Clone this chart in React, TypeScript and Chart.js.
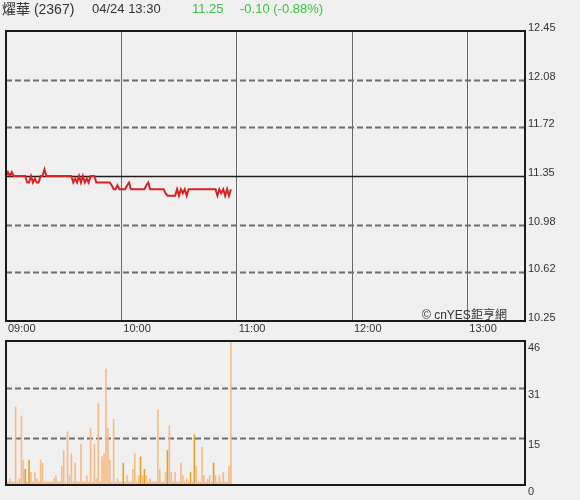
import React, { useEffect, useRef } from "react";
import { Chart, registerables } from "chart.js";

Chart.register(...registerables);

// ---------- data ----------
const stockName = "燿華 (2367)";
const stampText = "04/24 13:30";
const lastPrice = "11.25";
const changeText = "-0.10 (-0.88%)";
const copyrightA = "© cnYES";
const copyrightB = "鉅亨網";

const prevClose = 11.35;
const priceTicks = [10.25, 10.62, 10.98, 11.35, 11.72, 12.08, 12.45];
const volumeTicks = [0, 15, 31, 46];
const timeTicks = [0, 60, 120, 180, 240];
const timeLabels = ["09:00", "10:00", "11:00", "12:00", "13:00"];
const sessionMinutes = 270;

// price per minute from 09:00
const prices = [
  11.35, 11.38, 11.35, 11.38, 11.35, 11.35, 11.35, 11.35, 11.35, 11.35,
  11.35, 11.30, 11.30, 11.35, 11.30, 11.33, 11.30, 11.30, 11.35, 11.35,
  11.40, 11.35, 11.35, 11.35, 11.35, 11.35, 11.35, 11.35, 11.35, 11.35,
  11.35, 11.35, 11.35, 11.35, 11.35, 11.30, 11.33, 11.30, 11.35, 11.30,
  11.35, 11.30, 11.33, 11.30, 11.35, 11.35, 11.35, 11.30, 11.30, 11.30,
  11.30, 11.30, 11.30, 11.30, 11.30, 11.28, 11.25, 11.25, 11.28, 11.25,
  11.25, 11.25, 11.25, 11.28, 11.30, 11.25, 11.25, 11.25, 11.25, 11.25,
  11.25, 11.25, 11.25, 11.28, 11.30, 11.25, 11.25, 11.25, 11.25, 11.25,
  11.25, 11.25, 11.25, 11.22, 11.20, 11.20, 11.20, 11.20, 11.20, 11.25,
  11.20, 11.25, 11.22, 11.25, 11.20, 11.25, 11.25, 11.25, 11.25, 11.25,
  11.25, 11.25, 11.25, 11.25, 11.25, 11.25, 11.25, 11.25, 11.25, 11.25,
  11.20, 11.25, 11.22, 11.25, 11.20, 11.25, 11.20, 11.25,
];

// volume per minute
const volumes = [
  7, 1, 2, 1, 1, 25, 1, 2, 22, 8,
  5, 1, 8, 4, 1, 4, 2, 1, 8, 7,
  1, 1, 1, 1, 1, 2, 3, 1, 1, 6,
  11, 1, 17, 3, 10, 1, 7, 1, 1, 13,
  1, 1, 3, 1, 18, 1, 13, 2, 26, 1,
  9, 10, 37, 18, 8, 1, 21, 1, 2, 1,
  1, 7, 1, 3, 1, 1, 5, 10, 1, 3,
  9, 3, 5, 3, 1, 2, 1, 1, 1, 24,
  5, 1, 1, 4, 11, 19, 4, 1, 4, 1,
  1, 7, 3, 1, 2, 1, 4, 1, 16, 6,
  1, 1, 12, 3, 1, 2, 3, 1, 7, 3,
  1, 3, 1, 4, 1, 1, 6, 46,
];
// minutes whose volume bar is the darker tone
const darkMinutes = [10, 12, 61, 70, 72, 84, 96, 98, 108];

// ---------- helpers ----------
const FONT = '"Liberation Sans", Arial, "Noto Sans CJK TC", sans-serif';

const framePlugin = (lines: number[], solidValue: number | null) => ({
  id: "frame",
  beforeDatasetsDraw(chart: any) {
    const { ctx, chartArea: a, scales } = chart;
    const ys = scales.y;
    ctx.save();
    for (const v of lines) {
      const py = Math.round(ys.getPixelForValue(v)) + 0.5;
      if (py <= a.top + 2 || py >= a.bottom - 2) continue;
      ctx.beginPath();
      if (solidValue !== null && v === solidValue) {
        ctx.setLineDash([]);
        ctx.strokeStyle = "#1e1e1e";
        ctx.lineWidth = 1.5;
      } else {
        ctx.setLineDash([6, 3]);
        ctx.strokeStyle = "#6e6e6e";
        ctx.lineWidth = 2;
      }
      ctx.moveTo(a.left, py);
      ctx.lineTo(a.right, py);
      ctx.stroke();
    }
    ctx.restore();
  },
  afterDatasetsDraw(chart: any) {
    const { ctx, chartArea: a } = chart;
    ctx.save();
    ctx.setLineDash([]);
    ctx.strokeStyle = "#1a1a1a";
    ctx.lineWidth = 2;
    ctx.strokeRect(a.left, a.top, a.right - a.left, a.bottom - a.top);
    ctx.restore();
  },
});

export default function App() {
  const priceRef = useRef<HTMLCanvasElement | null>(null);
  const volRef = useRef<HTMLCanvasElement | null>(null);

  useEffect(() => {
    document.body.style.margin = "0";
    const tickFont = { family: FONT, size: 11 };

    const priceChart = new Chart(priceRef.current as HTMLCanvasElement, {
      type: "line",
      data: {
        datasets: [
          {
            data: prices.map((p, i) => ({ x: i, y: p })),
            borderColor: "#d42424",
            borderWidth: 2,
            pointRadius: 0,
            tension: 0,
            fill: false,
          },
        ],
      },
      options: {
        animation: false,
        responsive: false,
        events: [],
        layout: { padding: { left: 6, top: 31, right: 0, bottom: 0 } },
        plugins: { legend: { display: false }, tooltip: { enabled: false } },
        scales: {
          x: {
            type: "linear",
            min: 0,
            max: sessionMinutes,
            offset: false,
            afterBuildTicks: (s: any) => {
              s.ticks = timeTicks.map((v) => ({ value: v }));
            },
            afterFit: (s: any) => {
              s.height = 17;
            },
            grid: { color: "#6a6a6a", lineWidth: 1, drawTicks: false },
            border: { display: false },
            ticks: {
              align: "start",
              padding: 1,
              labelOffset: 2,
              maxRotation: 0,
              autoSkip: false,
              color: "#333",
              font: tickFont,
              callback: (_v: any, i: number) => timeLabels[i],
            },
          },
          y: {
            position: "right",
            min: priceTicks[0],
            max: priceTicks[priceTicks.length - 1],
            afterBuildTicks: (s: any) => {
              s.ticks = priceTicks.map((v) => ({ value: v }));
            },
            afterFit: (s: any) => {
              s.width = 55;
            },
            grid: { display: false, drawTicks: false },
            border: { display: false },
            ticks: {
              padding: 3,
              labelOffset: -3,
              color: "#333",
              font: tickFont,
              callback: (v: any) => Number(v).toFixed(2),
            },
          },
        },
      } as any,
      plugins: [framePlugin(priceTicks, prevClose)],
    });

    const volChart = new Chart(volRef.current as HTMLCanvasElement, {
      type: "bar",
      data: {
        datasets: [
          {
            data: volumes.map((v, i) => ({ x: i, y: v })),
            backgroundColor: volumes.map((_v, i) =>
              darkMinutes.includes(i) ? "#e3a224" : "#f8bb88"
            ),
            barThickness: 1,
            borderWidth: 0,
          },
        ],
      },
      options: {
        animation: false,
        responsive: false,
        events: [],
        layout: { padding: { left: 6, top: 11, right: 0, bottom: 15 } },
        plugins: { legend: { display: false }, tooltip: { enabled: false } },
        scales: {
          x: {
            type: "linear",
            min: 0,
            max: sessionMinutes,
            offset: false,
            display: false,
          },
          y: {
            position: "right",
            min: volumeTicks[0],
            max: volumeTicks[volumeTicks.length - 1],
            afterBuildTicks: (s: any) => {
              s.ticks = volumeTicks.map((v) => ({ value: v }));
            },
            afterFit: (s: any) => {
              s.width = 55;
            },
            grid: { display: false, drawTicks: false },
            border: { display: false },
            ticks: {
              padding: 3,
              labelOffset: 7,
              color: "#333",
              font: tickFont,
              callback: (v: any) => String(v),
            },
          },
        },
      } as any,
      plugins: [framePlugin(volumeTicks, null)],
    });

    return () => {
      priceChart.destroy();
      volChart.destroy();
    };
  }, []);

  const headStyle: React.CSSProperties = {
    position: "absolute",
    top: 0,
    fontFamily: FONT,
    fontSize: 13,
    lineHeight: "18px",
    whiteSpace: "nowrap",
  };

  return (
    <div
      style={{
        position: "relative",
        width: 580,
        height: 500,
        background: "#f0f0f0",
        overflow: "hidden",
      }}
    >
      <canvas
        ref={priceRef}
        width={580}
        height={338}
        style={{ position: "absolute", left: 0, top: 0, width: 580, height: 338 }}
      />
      <canvas
        ref={volRef}
        width={580}
        height={170}
        style={{ position: "absolute", left: 0, top: 330, width: 580, height: 170 }}
      />
      <span style={{ ...headStyle, left: 2, color: "#333", fontSize: 14 }}>{stockName}</span>
      <span style={{ ...headStyle, left: 92, color: "#333" }}>{stampText}</span>
      <span style={{ ...headStyle, left: 192, color: "#3fc13f" }}>{lastPrice}</span>
      <span style={{ ...headStyle, left: 240, color: "#3fc13f" }}>{changeText}</span>
      <span
        style={{
          position: "absolute",
          left: 422,
          top: 307,
          fontFamily: FONT,
          fontSize: 12,
          lineHeight: "16px",
          color: "#333",
          whiteSpace: "nowrap",
        }}
      >
        {copyrightA}
        {copyrightB}
      </span>
    </div>
  );
}
